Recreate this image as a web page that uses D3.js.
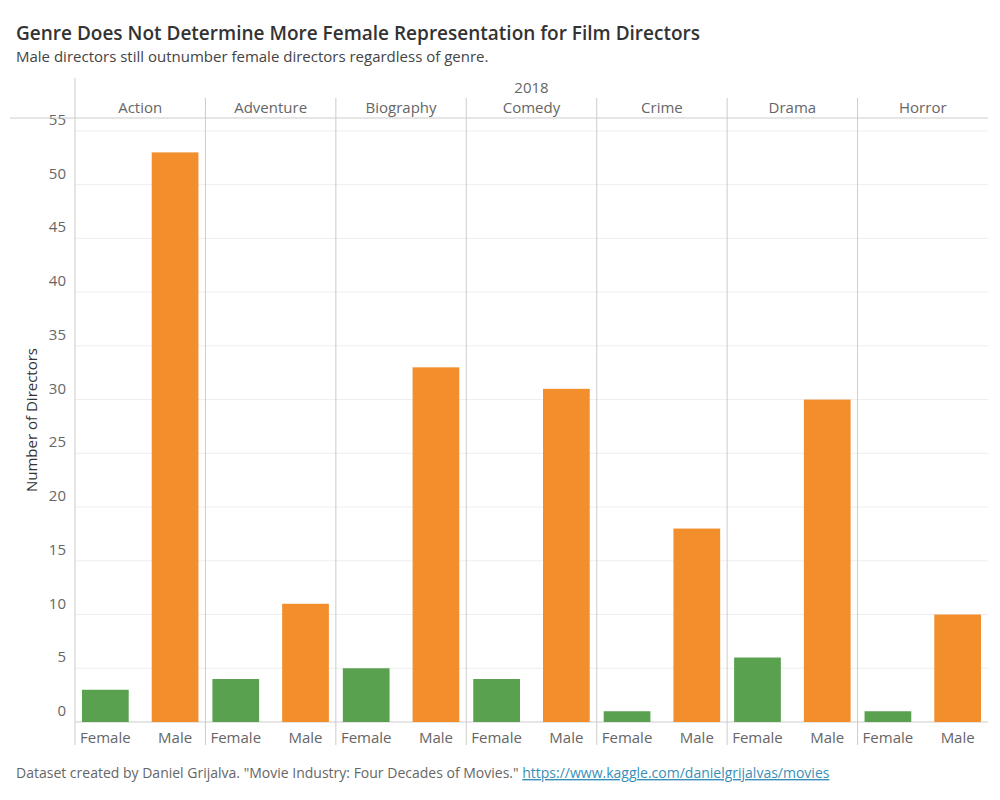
<!DOCTYPE html>
<html><head><meta charset="utf-8">
<script src="https://cdn.jsdelivr.net/npm/d3@7"></script>
<style>body{margin:0;background:#fff;font-family:"Open Sans",Lato,sans-serif}</style>
</head><body><svg id="chart" width="1000" height="800"></svg>
<script>
// chart data
const genres = ["Action","Adventure","Biography","Comedy","Crime","Drama","Horror"];
const genders = ["Female","Male"];
const femaleCounts = [3,4,5,4,1,6,1];
const maleCounts = [53,11,33,31,18,30,10];
const yTicks = [0,5,10,15,20,25,30,35,40,45,50,55];

const svg = d3.select("#chart");
const plotLeft = 75, plotRight = 988, plotTop = 118, plotBottom = 722;

const xPanel = d3.scaleBand().domain(genres).range([plotLeft, plotRight]);
const xBar = d3.scaleBand().domain(genders).range([0, xPanel.bandwidth()]).paddingInner(0.33).paddingOuter(0.1);
const y = d3.scaleLinear().domain([0, 56.2]).range([plotBottom, plotTop]);
const color = d3.scaleOrdinal().domain(genders).range(["#59a14f", "#f28e2b"]);

// title
svg.append("text").attr("x", 16).attr("y", 40).attr("font-size", 19).attr("font-weight", 600)
  .attr("fill", "#333").text("Genre Does Not Determine More Female Representation for Film Directors");
svg.append("text").attr("x", 16).attr("y", 62).attr("font-size", 15).attr("fill", "#444")
  .text("Male directors still outnumber female directors regardless of genre.");

// gridlines
svg.append("g").selectAll("line").data(yTicks.filter(d => d > 0)).join("line")
  .attr("x1", plotLeft).attr("x2", plotRight).attr("y1", d => y(d)).attr("y2", d => y(d))
  .attr("stroke", "#eee");

// y ticks
svg.append("g").selectAll("text").data(yTicks).join("text")
  .attr("x", 66).attr("y", d => y(d) - 6).attr("text-anchor", "end").attr("font-size", 15)
  .attr("fill", "#666").text(d => d);

svg.append("text").attr("transform", "translate(37,420) rotate(-90)").attr("text-anchor", "middle")
  .attr("font-size", 15).attr("fill", "#333").text("Number of Directors");

// header
svg.append("text").attr("x", (plotLeft + plotRight) / 2).attr("y", 93).attr("text-anchor", "middle")
  .attr("font-size", 15).attr("fill", "#666").text("2018");
svg.append("g").selectAll("text").data(genres).join("text")
  .attr("x", d => xPanel(d) + xPanel.bandwidth() / 2).attr("y", 113).attr("text-anchor", "middle")
  .attr("font-size", 15).attr("fill", "#666").text(d => d);

// panel dividers
svg.append("line").attr("x1", plotLeft).attr("x2", plotLeft).attr("y1", 78).attr("y2", 745).attr("stroke", "#ccc");
svg.append("g").selectAll("line").data(genres.slice(1)).join("line")
  .attr("x1", d => xPanel(d)).attr("x2", d => xPanel(d)).attr("y1", 98).attr("y2", 745).attr("stroke", "#ccc");
svg.append("line").attr("x1", 10).attr("x2", plotRight).attr("y1", plotTop).attr("y2", plotTop).attr("stroke", "#ccc");
svg.append("line").attr("x1", plotLeft).attr("x2", plotRight).attr("y1", plotBottom).attr("y2", plotBottom).attr("stroke", "#ccc");

// bars
const rows = genres.flatMap((g, i) => [
  { genre: g, gender: "Female", value: femaleCounts[i] },
  { genre: g, gender: "Male", value: maleCounts[i] }
]);
svg.append("g").selectAll("rect").data(rows).join("rect")
  .attr("x", d => xPanel(d.genre) + xBar(d.gender)).attr("width", xBar.bandwidth())
  .attr("y", d => y(d.value)).attr("height", d => plotBottom - y(d.value))
  .attr("fill", d => color(d.gender));

svg.append("g").selectAll("text").data(rows).join("text")
  .attr("x", d => xPanel(d.genre) + xBar(d.gender) + xBar.bandwidth() / 2).attr("y", 743)
  .attr("text-anchor", "middle").attr("font-size", 15).attr("fill", "#666").text(d => d.gender);

// footer
const foot = svg.append("text").attr("x", 16).attr("y", 778).attr("font-size", 14).attr("fill", "#666");
foot.append("tspan").text("Dataset created by Daniel Grijalva. \"Movie Industry: Four Decades of Movies.\" ");
foot.append("tspan").attr("fill", "#3a8fb7").attr("text-decoration", "underline")
  .text("https://www.kaggle.com/danielgrijalvas/movies");
</script></body></html>
